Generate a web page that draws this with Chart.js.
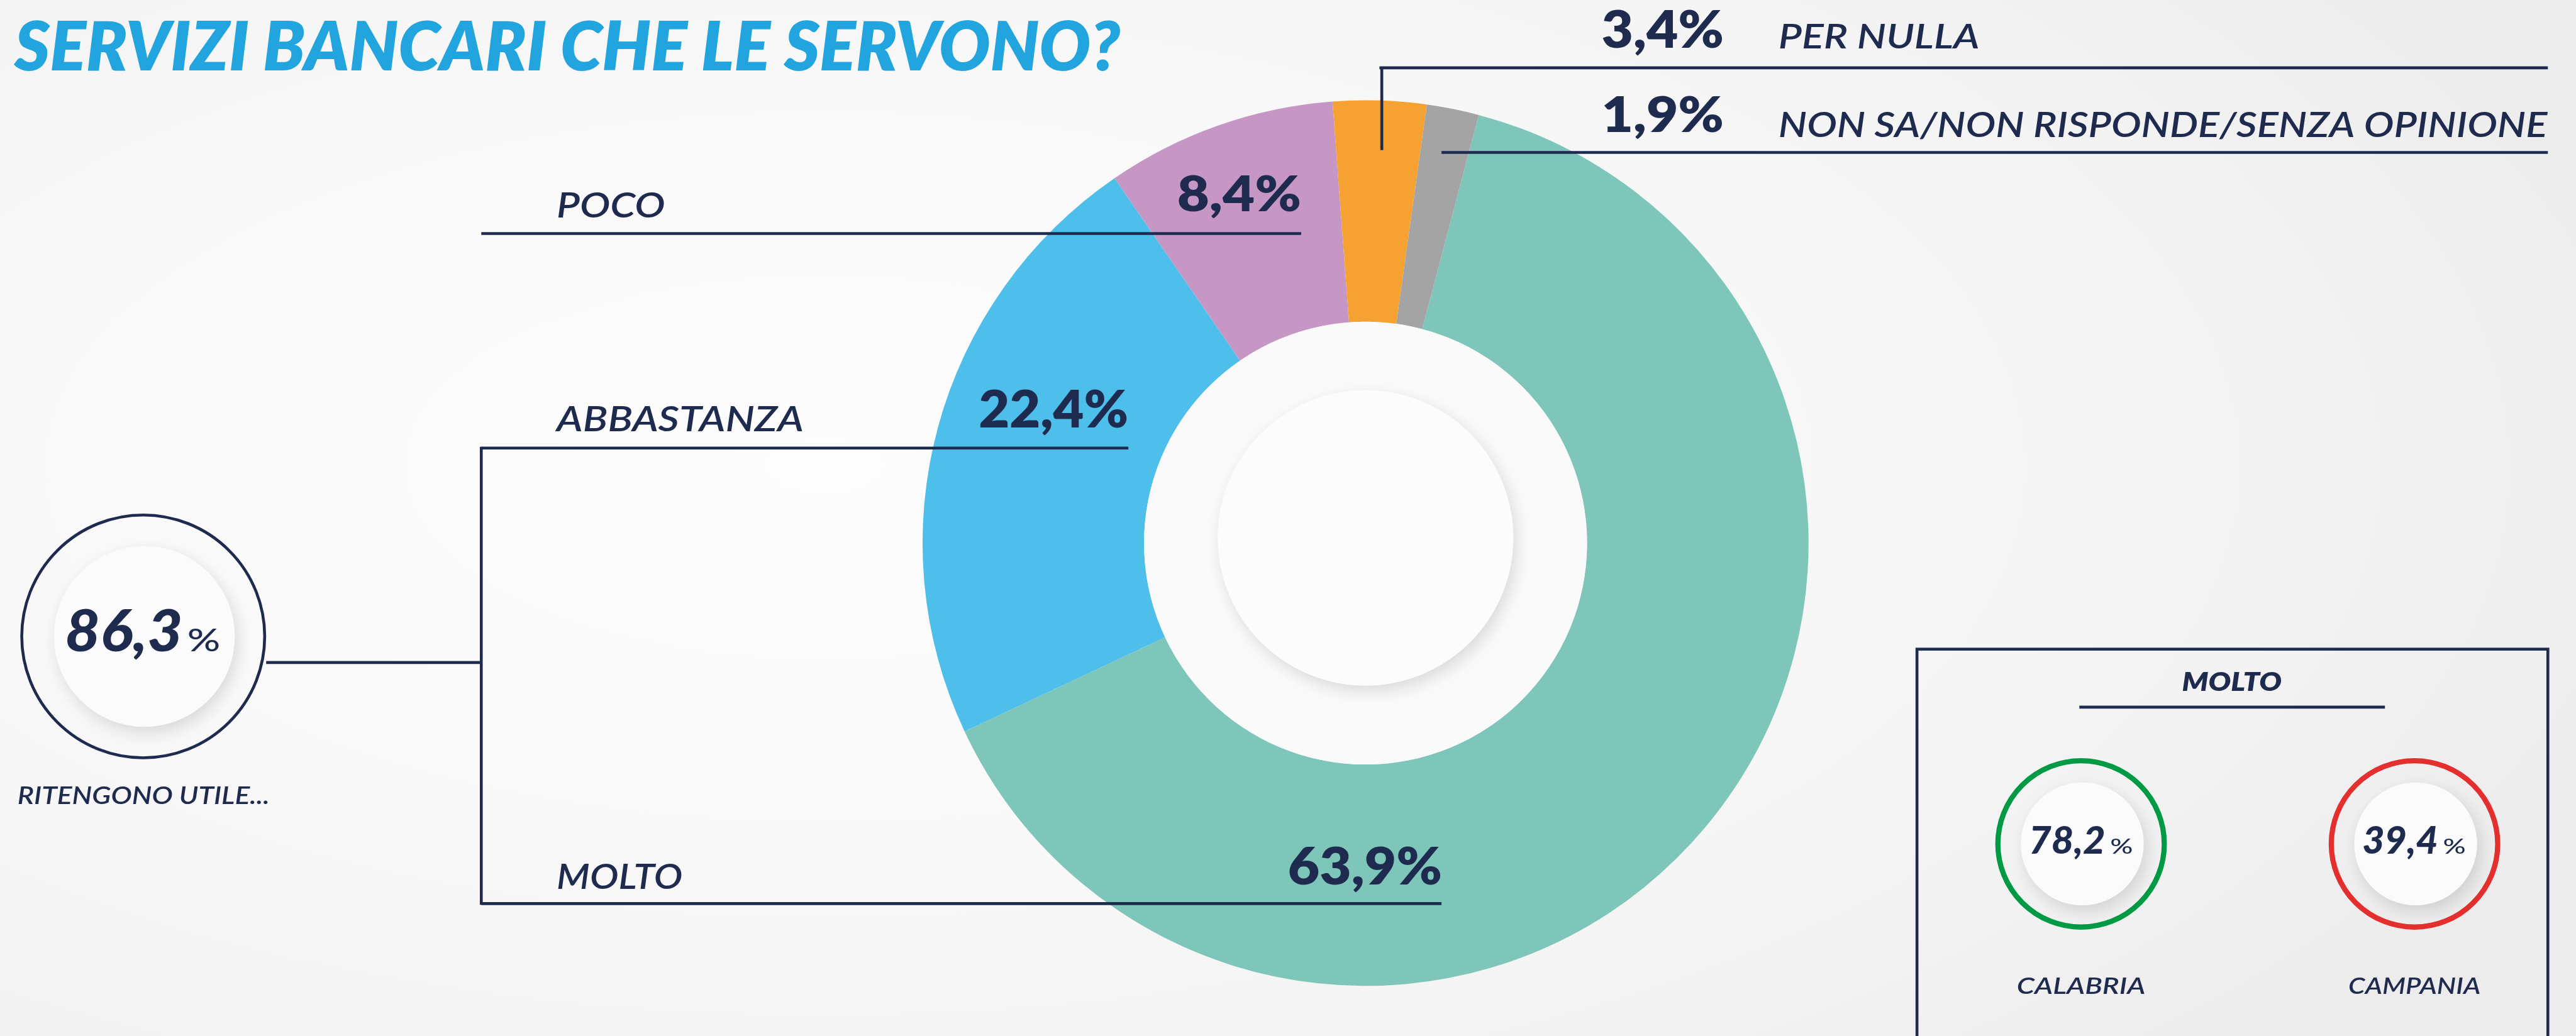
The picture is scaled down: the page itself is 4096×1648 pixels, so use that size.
<!DOCTYPE html>
<html lang="it">
<head>
<meta charset="utf-8">
<title>Servizi bancari che le servono?</title>
<script src="https://cdn.jsdelivr.net/npm/chart.js@4.4.1/dist/chart.umd.min.js"></script>
<style>
  html, body { margin: 0; padding: 0; }
  body {
    width: 4096px; height: 1648px; overflow: hidden;
    background: radial-gradient(ellipse 75% 85% at 32% 45%, #fdfdfd 0%, #f9f9f9 40%, #f3f3f3 75%, #ececec 100%);
  }
  canvas { display: block; }
</style>
</head>
<body>
<canvas id="servizi" width="4096" height="1648"></canvas>
<script>
// risposte alla domanda
const title = "SERVIZI BANCARI CHE LE SERVONO?";
const labels = ["MOLTO", "ABBASTANZA", "POCO", "PER NULLA", "NON SA/NON RISPONDE/SENZA OPINIONE"];
const values = [63.9, 22.4, 8.4, 3.4, 1.9];
const colors = ["#7ec6b9", "#4dbfea", "#c697c4", "#f6a233", "#a4a4a4"];

// riepiloghi laterali
const utileLabel = "RITENGONO UTILE...";
const utileValue = 86.3;
const boxTitle = "MOLTO";
const regions = ["CALABRIA", "CAMPANIA"];
const regionValues = [78.2, 39.4];
const regionColors = ["#009a44", "#e3302f"];

// everything below is laid out in reference pixels, then scaled
const K = 0.922;
const NAVY = "#1e2b4f";
const FONT = "Lato, 'Open Sans', 'DejaVu Sans', sans-serif";

// donut geometry (reference px)
const CX = 2355, CY = 937, R = 764;

const valueSpots = [
  { x0: 2221, x1: 2487, base: 1526, cap: 63 },
  { x0: 1688, x1: 1946, base: 737, cap: 63 },
  { x0: 2030, x1: 2244, base: 364, cap: 60 },
  { x0: 2762, x1: 2973, base: 82, cap: 63 },
  { x0: 2762, x1: 2973, base: 228, cap: 61 }
];
const nameSpots = [
  { x0: 960, x1: 1177, base: 1534, cap: 43 },
  { x0: 960, x1: 1386, base: 744, cap: 43 },
  { x0: 960, x1: 1147, base: 375, cap: 44 },
  { x0: 3067, x1: 3414, base: 83, cap: 42 },
  { x0: 3067, x1: 4393, base: 236, cap: 43 }
];

const fmt = v => v.toFixed(1).replace(".", ",");

function txt(ctx, str, x0, x1, base, cap, style, color) {
  const size = cap / 0.72 * K;
  ctx.font = style + " " + size.toFixed(1) + "px " + FONT;
  ctx.fillStyle = color || NAVY;
  ctx.textBaseline = "alphabetic";
  ctx.textAlign = "left";
  const w = ctx.measureText(str).width;
  const k = Math.min(1.35, Math.max(0.75, (x1 - x0) * K / w));
  ctx.save();
  ctx.translate(x0 * K, base * K);
  ctx.scale(k, 1);
  ctx.fillText(str, 0, 0);
  ctx.restore();
}

function line(ctx, x0, y0, x1, y1, t) {
  ctx.beginPath();
  ctx.moveTo(x0 * K, y0 * K);
  ctx.lineTo(x1 * K, y1 * K);
  ctx.lineWidth = t * K;
  ctx.strokeStyle = NAVY;
  ctx.lineCap = "butt";
  ctx.stroke();
}

function disc(ctx, cx, cy, r, fill, shadow) {
  ctx.save();
  if (shadow) {
    ctx.shadowColor = "rgba(0,0,0,0.13)";
    ctx.shadowBlur = 28 * K;
    ctx.shadowOffsetX = 6 * K;
    ctx.shadowOffsetY = 10 * K;
  }
  ctx.beginPath();
  ctx.arc(cx * K, cy * K, r * K, 0, Math.PI * 2);
  ctx.fillStyle = fill;
  ctx.fill();
  ctx.restore();
}

function ring(ctx, cx, cy, r, t, color) {
  ctx.beginPath();
  ctx.arc(cx * K, cy * K, (r - t / 2) * K, 0, Math.PI * 2);
  ctx.lineWidth = t * K;
  ctx.strokeStyle = color;
  ctx.stroke();
}

function badge(ctx, cx, cy, rOuter, rInner, t, color, value, numX0, numX1, pctX1, base, cap, pctCap) {
  ring(ctx, cx, cy, rOuter, t, color);
  disc(ctx, cx + 2, cy, rInner, "#fbfbfb", true);
  txt(ctx, fmt(value), numX0, numX1, base, cap, "italic 900");
  txt(ctx, "%", numX1 + 8, pctX1, base, pctCap, "500");
}

const decor = {
  id: "decor",
  afterDraw(chart) {
    const ctx = chart.ctx;

    // hole of the donut and its raised disc
    disc(ctx, CX, CY, R / 2, "#fafafa", false);
    disc(ctx, CX, CY - 9, 255, "#fcfcfc", true);

    // title
    txt(ctx, title, 25, 1932, 121, 84, "italic 800", "#22a5de");

    // leader lines
    line(ctx, 2379, 117, 4394, 117, 5);
    line(ctx, 2383, 115, 2383, 259, 5);
    line(ctx, 2486, 263, 4394, 263, 5);
    line(ctx, 830, 403, 2244, 403, 5);
    line(ctx, 830, 773, 1946, 773, 5);
    line(ctx, 830, 1559, 2486, 1559, 5);
    line(ctx, 830, 771, 830, 1561, 5);
    line(ctx, 459, 1143, 830, 1143, 5);

    // values and names of each slice
    values.forEach((v, i) => {
      const a = valueSpots[i], b = nameSpots[i];
      txt(ctx, fmt(v) + "%", a.x0, a.x1, a.base, a.cap, "800");
      txt(ctx, labels[i], b.x0, b.x1, b.base, b.cap, "italic 600");
    });

    // left badge
    badge(ctx, 247, 1098, 212, 156, 5, NAVY, utileValue, 112, 315, 380, 1124, 71, 39);
    txt(ctx, utileLabel, 30, 465, 1387, 30, "italic 600");

    // right box
    ctx.lineWidth = 5 * K;
    ctx.strokeStyle = NAVY;
    ctx.strokeRect(3306 * K, 1120 * K, (4394 - 3306) * K, 800 * K);
    txt(ctx, boxTitle, 3763, 3935, 1192, 33, "italic 800");
    line(ctx, 3586, 1220, 4113, 1220, 5);

    const spots = [
      { cx: 3589, n0: 3499, n1: 3631, p1: 3681, l0: 3478, l1: 3700 },
      { cx: 4164, n0: 4074, n1: 4205, p1: 4254, l0: 4050, l1: 4278 }
    ];
    regions.forEach((name, i) => {
      const s = spots[i];
      badge(ctx, s.cx, 1456, 148, 106, 9, regionColors[i], regionValues[i], s.n0, s.n1, s.p1, 1473, 47, 26);
      txt(ctx, name, s.l0, s.l1, 1715, 29, "italic 600");
    });
  }
};

const ctx = document.getElementById("servizi").getContext("2d");
new Chart(ctx, {
  type: "doughnut",
  data: {
    labels,
    datasets: [{
      data: values,
      backgroundColor: colors,
      borderWidth: 0
    }]
  },
  options: {
    responsive: false,
    animation: false,
    devicePixelRatio: 1,
    rotation: 14.8,
    cutout: "50%",
    layout: {
      padding: {
        left: (CX - R) * K,
        right: 4096 - (CX + R) * K,
        top: (CY - R) * K,
        bottom: 1648 - (CY + R) * K
      }
    },
    plugins: {
      legend: { display: false },
      tooltip: { enabled: false }
    }
  },
  plugins: [decor]
});
</script>
</body>
</html>
